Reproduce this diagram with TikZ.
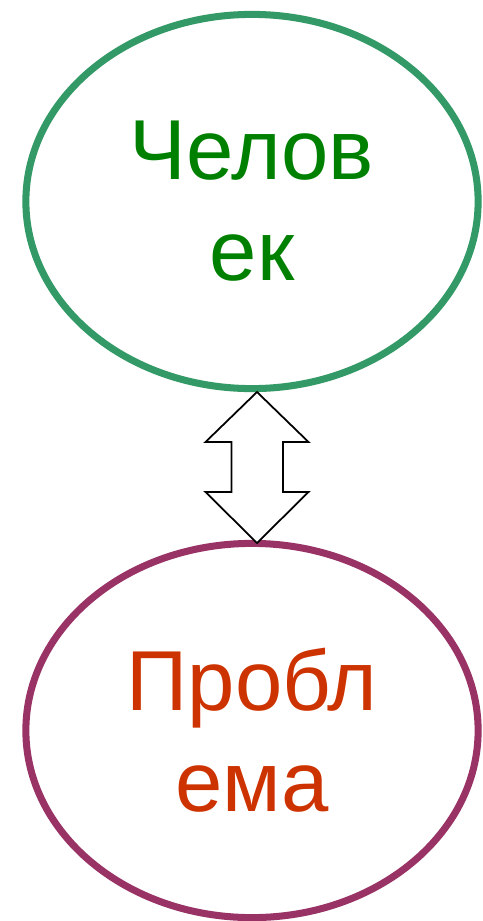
\documentclass[tikz,border=0pt]{standalone}
\usepackage{fontspec}
\setmainfont{Liberation Sans}
\usepackage{tikz}
\usetikzlibrary{shapes,calc}
\definecolor{ringgreen}{RGB}{51,153,102}
\definecolor{ringpurple}{RGB}{153,51,102}
\definecolor{textgreen}{RGB}{0,128,0}
\definecolor{textred}{RGB}{204,51,0}
\tikzstyle{ring} = [ellipse, line width=2pt, inner sep=0pt,
                    minimum width=4.52cm, minimum height=3.74cm,
                    align=center, font=\fontsize{24.2}{28.7}\selectfont]
\tikzstyle{person} = [ring, draw=ringgreen, text=textgreen]
\tikzstyle{problem} = [ring, draw=ringpurple, text=textred]
\tikzstyle{link} = [draw=black, line width=0.5pt, fill=white]

\begin{document}
\begin{tikzpicture}[x=0.01cm,y=-0.01cm]%
  \useasboundingbox (0,0) rectangle (483,921);
  \node [person] (man) at (252,201.5) {Челов\\ек};
  \node [problem] (task) at (252,730.5) {Пробл\\ема};
  \coordinate (up) at (257,392);
  \coordinate (down) at (257,543);
  % double arrow between the two rings
  \draw [link] (up) -- ($(up)+(51.5,50)$) -- ($(up)+(26,50)$)
    -- ($(down)+(26,-51)$) -- ($(down)+(51.5,-51)$) -- (down)
    -- ($(down)+(-51.5,-51)$) -- ($(down)+(-25.5,-51)$)
    -- ($(up)+(-25.5,50)$) -- ($(up)+(-51.5,50)$) -- cycle;
\end{tikzpicture}
\end{document}
